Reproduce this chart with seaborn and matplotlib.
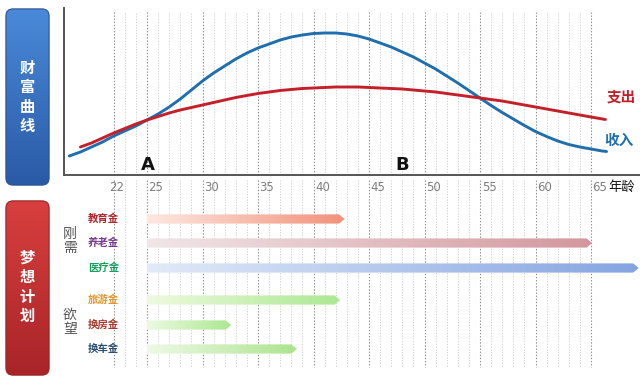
import numpy as np
import pandas as pd
import matplotlib
matplotlib.use('Agg')
import matplotlib.pyplot as plt
import seaborn as sns
from matplotlib.patches import FancyBboxPatch, Polygon
from matplotlib.colors import LinearSegmentedColormap
from matplotlib.transforms import ScaledTranslation

sns.set_style('white')
plt.rcParams['font.family'] = ['Noto Sans CJK SC', 'DejaVu Sans']

# ---------------- data ----------------
income_age = [18, 19, 20, 21, 22, 23, 24, 25, 26, 27, 28, 29, 30, 31, 32, 33, 34, 35, 36, 37,
              38, 39, 40, 41, 42, 43, 44, 45, 46, 47, 48, 49, 50, 51, 52, 53, 54, 55, 56, 57,
              58, 59, 60, 61, 62, 63, 64, 65, 66, 66.4]
income_val = [19, 23, 28, 33, 39, 44, 49, 55, 61, 68, 76, 85, 94, 102, 109, 116, 122, 127, 131, 135,
              138, 140, 141.5, 142, 142, 141, 139, 136, 132, 128, 123, 118, 112, 106, 99, 92, 84.5, 77, 69.5, 62.5,
              56, 49.5, 43.5, 38.5, 34, 30.5, 28, 26, 24, 23.5]
spend_age = [19, 20, 21, 22, 23, 24, 25, 26, 27, 28, 29, 30, 31, 32, 33, 34, 35, 36, 37, 38,
             39, 40, 41, 42, 43, 44, 45, 46, 47, 48, 49, 50, 51, 52, 53, 54, 55, 56, 57, 58,
             59, 60, 61, 62, 63, 64, 65, 66.3]
spend_val = [28, 32, 37, 42, 46.5, 51, 55, 58.5, 62, 65, 67.5, 70, 72.5, 75, 77.5, 79.5, 81.5, 83, 84.5, 85.5,
             86.5, 87, 87.5, 88, 88, 88, 87.5, 87, 86.5, 86, 85, 84, 83, 81.5, 80, 78.5, 77, 75.5, 74, 72,
             70, 68, 66, 64, 62, 60, 58, 55.5]

major_ticks = [22, 25, 30, 35, 40, 45, 50, 55, 60, 65]
minor_ticks = [a for a in range(23, 65) if a not in major_ticks]

plan_names = ['教育金', '养老金', '医疗金', '旅游金', '换房金', '换车金']
plan_start = [25, 25, 25, 25, 25, 25]
plan_end = [42.8, 65.1, 69.3, 42.4, 32.6, 38.5]
plan_groups = ['刚需', '欲望']

# ---------------- layout helpers ----------------
W, H = 640, 384
fig = plt.figure(figsize=(6.4, 3.84), dpi=100)
fig.patch.set_facecolor('white')


def rect(x, y, w, h):
    return [x / W, 1 - (y + h) / H, w / W, h / H]


def fxy(x, y):
    return x / W, 1 - y / H


AGE_L = 25 - 83 / 11.1
AGE_R = 25 + 493 / 11.1

# ---------------- top chart ----------------
ax = fig.add_axes(rect(64, 8, 576, 167))
df = pd.DataFrame({
    'age': income_age + spend_age,
    'val': income_val + spend_val,
    'kind': ['收入'] * len(income_age) + ['支出'] * len(spend_age),
})
BLUE = '#1f6fae'
RED = '#c4202a'
sns.lineplot(data=df, x='age', y='val', hue='kind', palette={'收入': BLUE, '支出': RED},
             estimator=None, sort=False, lw=2.1, legend=False, ax=ax, zorder=4)
for ln in ax.get_lines():
    ln.set_solid_capstyle('round')
    ln.set_solid_joinstyle('round')
ax.set_xlim(AGE_L, AGE_R)
ax.set_ylim(0, 167)
ax.set_xlabel('')
ax.set_ylabel('')
ax.set_yticks([])
for s in ['top', 'right']:
    ax.spines[s].set_visible(False)
for s in ['left', 'bottom']:
    ax.spines[s].set_color('#555555')
    ax.spines[s].set_linewidth(1.4)
ax.vlines(major_ticks, 0, 163, colors='#8c8c8c', lw=0.8, linestyles=(0, (1.2, 1.6)), zorder=1)
ax.vlines(minor_ticks, 0, 163, colors='#d0d0d0', lw=0.7, linestyles=(0, (1.2, 1.6)), zorder=1)
ax.set_xticks(major_ticks)
ax.set_xticklabels([str(t) for t in major_ticks], fontsize=8.5, color='#7f7f7f',
                   family=['DejaVu Sans'])
ax.tick_params(axis='x', length=0, pad=4.5)
for t, lab in zip(major_ticks, ax.get_xticklabels()):
    off = 3 if t == 22 else 9
    lab.set_transform(lab.get_transform() + ScaledTranslation(off / 100, 0, fig.dpi_scale_trans))

ax.text(25.1, 10, 'A', fontsize=13, fontweight='bold', ha='center', va='center',
        family=['DejaVu Sans'], color='#111111')
ax.text(48.0, 10, 'B', fontsize=13, fontweight='bold', ha='center', va='center',
        family=['DejaVu Sans'], color='#111111')
fig.text(*fxy(621, 97), '支出', color=RED, fontsize=10.5, fontweight='bold', ha='center', va='center')
fig.text(*fxy(619, 140), '收入', color=BLUE, fontsize=10.5, fontweight='bold', ha='center', va='center')
fig.text(*fxy(622, 187), '年龄', color='#111111', fontsize=9.5, ha='center', va='center')

# ---------------- bottom plan chart ----------------
ax2 = fig.add_axes(rect(64, 175, 576, 200))
ax2.axis('off')
ax2.vlines(major_ticks, 180, 367, colors='#8c8c8c', lw=0.8, linestyles=(0, (1.2, 1.6)), zorder=1)
ax2.vlines(minor_ticks, 180, 367, colors='#d0d0d0', lw=0.7, linestyles=(0, (1.2, 1.6)), zorder=1)

row_y = [219, 243, 268, 300, 325, 349]
label_colors = ['#b0242c', '#7a3d8e', '#17a05a', '#e0972f', '#a53a2c', '#2d4e70']
bar_colors = [('#fde8e0', '#f2917a'), ('#f1e6e8', '#d3979d'), ('#e2eaf8', '#84a4e1'),
              ('#eefadf', '#abe892'), ('#edfae2', '#abe791'), ('#eff9e6', '#ace48e')]
half = 4.6
tip = 0.5
grad = np.linspace(0, 1, 256).reshape(1, -1)
for name, x0, x1, y, lc, (c0, c1) in zip(plan_names, plan_start, plan_end, row_y,
                                         label_colors, bar_colors):
    poly = Polygon([(x0, y - half), (x1 - tip, y - half), (x1, y), (x1 - tip, y + half),
                    (x0, y + half)], closed=True, facecolor='none', edgecolor='none')
    ax2.add_patch(poly)
    cmap = LinearSegmentedColormap.from_list(name, [c0, c1])
    im = ax2.imshow(grad, cmap=cmap, extent=(x0, x1, y + half, y - half), aspect='auto',
                    interpolation='bilinear', zorder=3)
    im.set_clip_path(poly)
    fig.text(*fxy(88, y), name, color=lc, fontsize=7.5, fontweight='bold', ha='left', va='center')
ax2.set_xlim(AGE_L, AGE_R)
ax2.set_ylim(375, 175)

fig.text(*fxy(70, 241), '刚\n需', color='#555555', fontsize=10, ha='center', va='center',
         linespacing=1.05)
fig.text(*fxy(70, 322), '欲\n望', color='#555555', fontsize=10, ha='center', va='center',
         linespacing=1.05)

# ---------------- left title boxes ----------------


def title_box(x, y, w, h, top_c, bot_c, edge_c, text, text_y):
    axb = fig.add_axes(rect(x, y, w, h))
    axb.axis('off')
    axb.set_xlim(0, 1)
    axb.set_ylim(0, 1)
    patch = FancyBboxPatch((0.02, 0.005), 0.96, 0.99, boxstyle='round,pad=0,rounding_size=0.16',
                           mutation_aspect=w / h, facecolor='none', edgecolor=edge_c, lw=0.8,
                           zorder=4)
    axb.add_patch(patch)
    cmap = LinearSegmentedColormap.from_list('box', [bot_c, top_c])
    im = axb.imshow(np.linspace(0, 1, 256).reshape(-1, 1), cmap=cmap, extent=(0, 1, 0, 1),
                    origin='lower', aspect='auto', zorder=2)
    im.set_clip_path(patch)
    axb.set_xlim(0, 1)
    axb.set_ylim(0, 1)
    axb.text(0.5, 1 - (text_y - y) / h, text, color='white', fontsize=11, fontweight='bold',
             ha='center', va='center', linespacing=1.28, zorder=5)


title_box(5, 8, 45, 178, '#4a8ad8', '#2a5aa6', '#2a5296', '财\n富\n曲\n线', 97)
title_box(5, 200, 45, 176, '#d8403e', '#a82428', '#9a2226', '梦\n想\n计\n划', 287)

fig.savefig('out.png', dpi=100, facecolor='white')
